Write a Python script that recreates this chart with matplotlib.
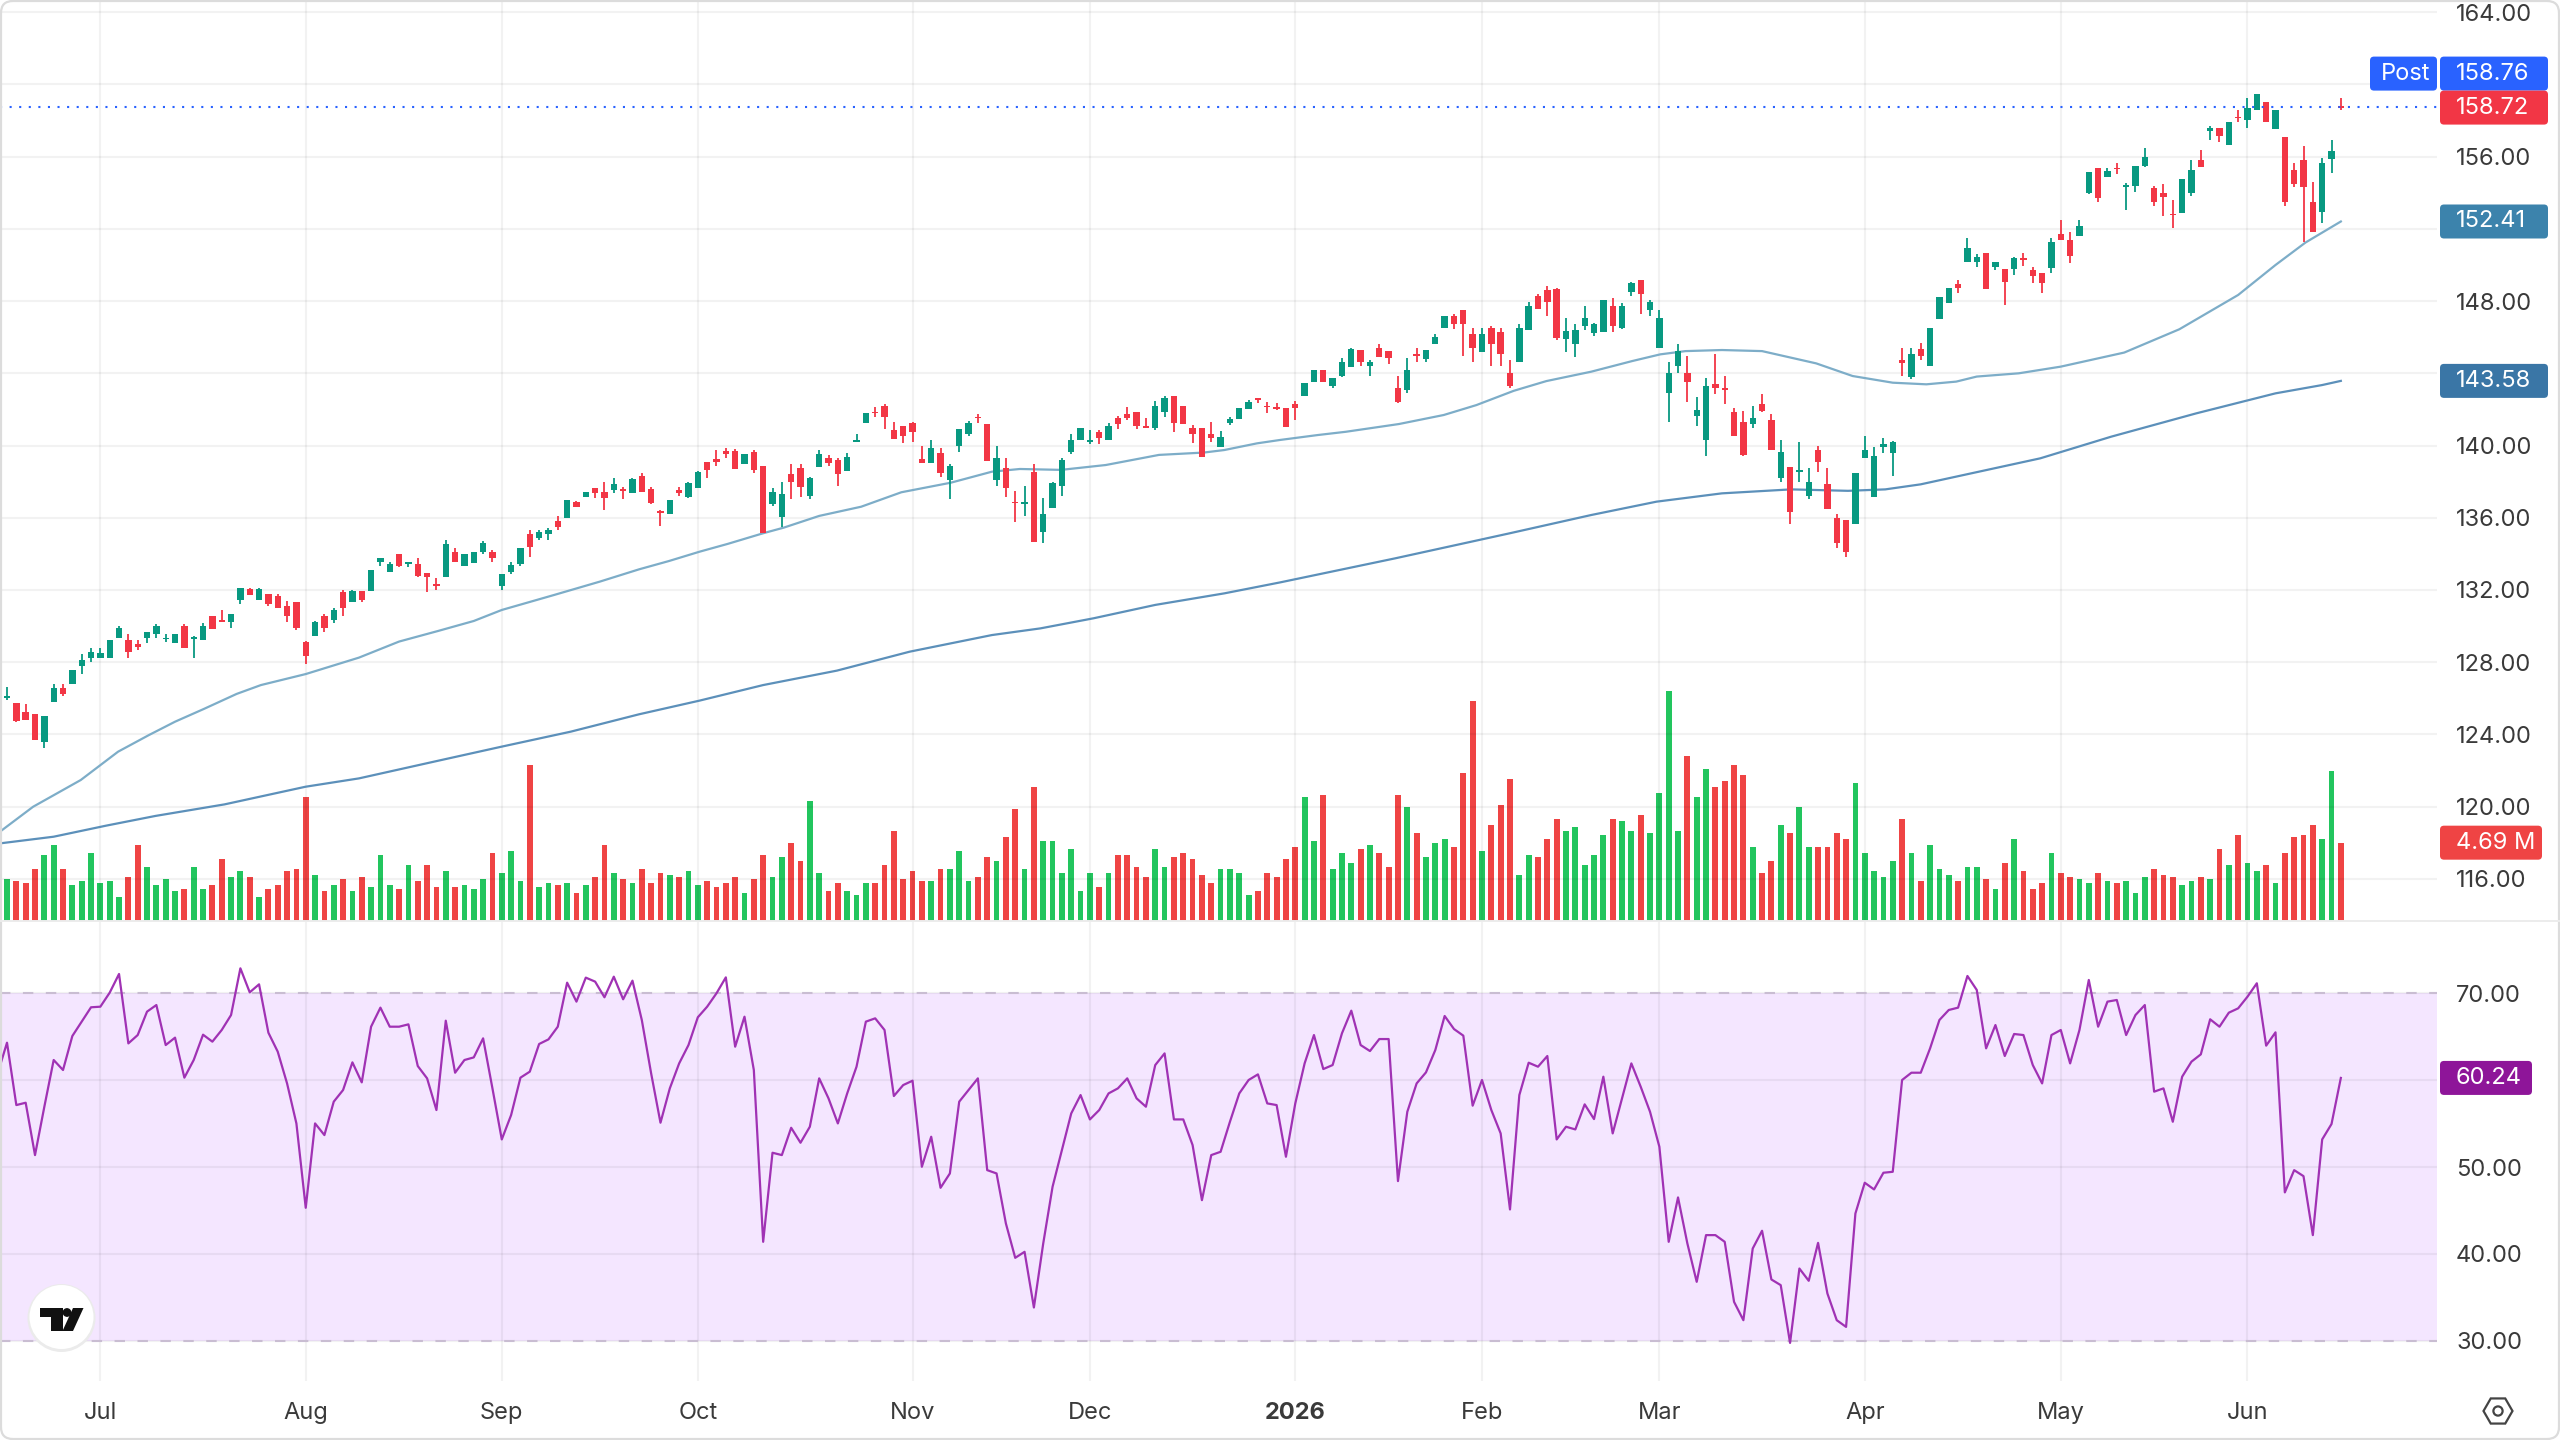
import numpy as np
import matplotlib
matplotlib.use("Agg")
import matplotlib.pyplot as plt
from matplotlib.patches import Circle, FancyBboxPatch, Polygon, RegularPolygon

plt.rcParams["font.family"] = ["Inter", "DejaVu Sans"]

# daily candles
opens = [
    126.0,125.72,125.24,125.13,123.60,125.81,126.55,126.79,127.79,128.21,
    128.25,128.25,129.32,129.23,129.0,129.32,129.56,129.26,129.04,130.02,
    129.28,129.23,130.56,130.30,130.21,131.44,132.03,131.44,131.78,131.68,
    131.11,131.31,129.10,129.47,130.56,130.34,131.90,131.35,131.96,131.96,
    133.57,133.01,133.99,133.44,133.42,132.96,132.33,132.70,134.08,133.34,
    133.47,134.08,134.08,132.22,133.01,133.42,135.10,134.86,135.08,135.84,
    136.0,136.85,137.13,137.63,137.41,137.54,137.57,137.35,138.33,137.57,
    136.37,136.21,137.54,137.17,137.67,139.07,139.24,139.70,139.70,138.98,
    139.66,138.87,136.76,136.02,138.41,138.74,137.2,138.79,139.33,139.2,
    138.57,140.22,141.23,141.88,142.19,140.86,141.08,141.23,139.26,139.02,
    139.61,138.09,139.98,140.64,141.60,141.19,138.09,138.74,136.89,136.76,
    138.55,135.23,136.52,137.78,139.63,140.31,140.18,140.77,140.31,141.51,
    141.75,141.84,141.08,140.95,141.88,142.75,142.19,140.95,140.99,140.64,
    139.90,141.27,141.45,142.01,142.62,142.19,142.15,142.06,142.28,142.76,
    143.53,144.18,143.29,143.85,144.33,145.29,144.42,145.38,145.25,143.16,
    143.07,145.05,144.77,145.62,146.53,147.17,147.50,146.17,145.20,146.53,
    146.27,144.03,144.64,146.40,148.28,148.61,148.67,145.88,145.62,146.62,
    146.25,146.30,147.73,146.49,148.52,149.17,147.50,145.42,142.89,144.42,
    144.03,141.65,140.30,143.40,143.16,141.87,141.32,141.19,142.30,141.41,
    138.21,138.79,138.55,137.20,139.75,137.85,136.0,135.87,135.65,139.32,
    137.16,139.90,139.56,144.73,143.81,145.35,144.43,146.99,147.88,148.95,
    150.19,150.19,150.65,149.87,149.78,149.76,150.37,149.73,149.58,149.82,
    151.72,151.39,151.63,154.01,155.36,154.90,155.40,154.34,154.38,155.50,
    154.29,154.01,152.83,152.87,153.97,155.82,157.45,157.57,156.65,158.22,
    158.04,158.59,159.01,157.52,157.11,155.27,155.82,153.47,152.96,155.86,158.78,
]
highs = [
    126.64,125.76,125.68,125.13,125.02,126.79,126.79,127.57,128.45,128.77,
    128.77,129.23,130.0,129.56,129.23,129.65,130.11,129.56,129.56,130.11,
    129.45,130.15,130.56,130.89,130.67,132.09,132.10,132.10,131.78,131.78,
    131.41,131.31,129.17,130.30,130.67,130.98,132.0,132.0,131.96,133.10,
    133.75,133.52,133.99,133.53,133.75,132.96,132.64,134.77,134.30,133.97,
    134.08,134.73,134.21,132.88,133.57,134.30,135.32,135.32,135.41,136.10,
    136.98,136.95,137.41,137.63,137.96,138.18,137.68,138.22,138.46,137.68,
    136.43,136.98,137.69,138.0,138.60,139.10,139.75,139.85,139.78,139.51,
    139.75,138.87,137.63,137.96,138.96,138.96,138.28,139.75,139.48,139.29,
    139.61,140.64,141.79,142.15,142.30,141.29,141.08,141.29,139.98,140.31,
    139.85,138.96,140.90,141.38,141.75,141.19,139.98,139.29,137.50,137.76,
    138.96,137.08,137.97,139.29,140.64,140.95,140.86,140.86,141.27,141.64,
    142.15,141.84,141.51,142.49,142.75,142.75,142.19,141.14,140.99,141.29,
    140.82,141.60,142.06,142.52,142.62,142.39,142.38,142.06,142.48,143.44,
    144.18,144.18,143.72,144.83,145.42,145.29,144.73,145.62,145.25,143.85,
    144.83,145.38,145.29,146.17,147.17,147.26,147.50,146.49,146.49,146.62,
    146.49,144.73,146.73,147.97,148.39,148.83,148.71,147.04,146.71,147.73,
    146.80,148.06,148.15,147.87,149.07,149.17,148.06,147.50,144.60,145.62,
    144.96,142.70,143.72,145.07,143.85,142.06,141.93,142.18,142.85,141.72,
    140.30,138.79,140.17,138.73,139.97,138.73,136.20,135.87,138.45,140.52,
    139.93,140.39,140.26,145.38,145.38,145.70,146.50,148.21,148.71,149.17,
    151.48,150.59,150.65,150.15,149.78,150.46,150.65,149.91,149.58,151.48,
    152.50,151.81,152.50,155.17,155.36,155.36,155.67,154.56,155.50,156.47,
    154.38,154.49,153.60,154.75,155.82,156.37,157.70,157.57,157.90,158.59,
    159.24,159.48,159.01,158.59,157.11,155.67,156.60,154.58,155.91,156.93,159.27,
]
lows = [
    125.90,124.70,124.78,123.69,123.26,125.81,126.13,126.79,127.34,128.03,
    128.25,128.25,129.32,128.25,128.67,129.04,129.32,129.10,129.04,128.80,
    128.21,129.23,129.82,130.24,129.87,131.22,131.72,131.44,131.13,131.02,
    130.24,129.78,127.90,129.47,129.69,130.15,130.58,131.35,131.35,131.96,
    133.33,133.01,133.25,133.25,132.70,131.90,132.0,132.70,133.57,133.34,
    133.47,134.0,133.57,132.0,132.88,133.33,133.81,134.77,134.77,135.32,
    136.0,136.58,137.13,137.11,136.43,137.35,137.02,137.35,137.44,136.76,
    135.54,136.21,137.22,137.11,137.67,138.22,138.89,139.33,138.68,138.98,
    138.46,135.14,136.67,135.51,137.02,137.13,137.02,138.79,138.89,137.78,
    138.57,140.22,141.23,141.56,140.90,140.34,140.12,140.22,139.02,139.02,
    138.24,137.02,139.66,140.53,141.23,139.16,137.76,137.13,135.78,136.12,
    134.67,134.58,136.52,137.22,139.53,140.31,140.09,140.09,140.31,140.90,
    141.42,140.90,140.97,140.86,141.56,140.77,141.19,140.12,139.35,140.22,
    139.90,141.14,141.45,142.01,142.34,141.79,141.97,141.0,141.41,142.76,
    143.53,143.53,143.20,143.77,144.33,144.42,143.87,144.88,144.51,142.33,
    142.89,144.64,144.64,145.62,146.53,146.43,144.97,144.64,145.20,144.42,
    144.42,143.20,144.64,146.40,147.54,147.17,145.84,145.20,144.88,146.40,
    146.08,146.30,146.30,146.43,148.28,147.28,147.17,145.42,141.32,144.0,
    142.43,141.10,139.43,142.85,142.30,140.54,139.42,140.99,141.87,139.75,
    137.99,135.68,137.99,137.02,138.55,136.46,134.34,133.80,135.65,139.32,
    137.16,139.56,138.33,143.85,143.66,144.74,144.43,146.99,147.88,148.43,
    150.19,149.87,148.67,149.73,147.79,149.45,149.97,148.99,148.43,149.54,
    151.39,150.10,151.63,153.94,153.51,154.86,155.04,153.05,154.07,155.41,
    153.29,152.72,152.03,152.87,153.84,155.45,156.93,156.84,156.65,157.91,
    157.61,158.59,157.94,157.52,153.29,154.31,151.30,151.85,152.31,155.08,158.59,
]
closes = [
    126.13,124.76,124.80,123.69,125.02,126.55,126.22,127.57,128.12,128.58,
    128.53,129.23,129.91,128.58,128.86,129.65,130.0,129.36,129.56,128.80,
    129.38,130.02,129.82,130.24,130.67,132.09,131.72,132.03,131.22,131.02,
    130.56,129.87,128.36,130.24,129.87,130.89,131.02,131.94,131.44,133.10,
    133.75,133.43,133.33,133.53,132.77,132.70,132.24,134.54,133.57,133.97,
    134.08,134.58,133.75,132.88,133.38,134.30,134.36,135.23,135.32,135.50,
    136.98,136.58,137.41,137.35,137.11,137.85,137.50,138.13,137.44,136.83,
    136.28,136.98,137.35,137.91,138.55,138.65,139.11,139.51,138.68,139.51,
    138.65,135.14,137.41,137.32,138.0,137.69,138.22,139.53,139.05,138.42,
    139.38,140.27,141.79,141.79,141.56,140.34,140.53,140.77,139.02,139.85,
    138.46,138.89,140.90,141.23,141.51,139.16,139.29,137.67,136.80,136.85,
    134.67,136.21,137.91,139.20,140.31,140.95,140.31,140.40,141.08,141.19,
    141.51,141.10,140.97,142.19,142.62,141.27,141.19,140.64,139.35,140.40,
    140.49,141.45,142.06,142.43,142.52,142.12,142.01,141.0,142.06,143.44,
    144.18,143.53,143.72,144.60,145.32,144.64,144.64,144.88,144.86,142.39,
    144.18,144.97,145.29,145.99,147.17,146.73,146.73,145.38,146.17,145.62,
    145.07,143.29,146.53,147.73,147.54,147.97,145.93,146.36,146.40,147.04,
    146.73,148.06,146.64,147.73,148.98,148.39,147.97,147.08,144.03,145.25,
    143.53,141.96,143.29,143.20,143.09,140.54,139.47,141.50,141.93,139.75,
    139.62,136.33,138.64,137.96,139.10,136.46,134.58,134.12,138.45,139.75,
    139.42,140.06,140.21,144.55,145.05,144.98,146.50,148.21,148.71,148.71,
    150.93,150.46,148.67,150.15,149.08,150.37,150.28,149.41,148.99,151.30,
    151.39,150.52,152.18,155.17,153.70,155.23,155.30,154.43,155.50,156.0,
    153.47,153.75,152.75,154.75,155.27,155.45,157.57,157.15,157.90,158.13,
    158.72,159.48,157.94,158.59,153.51,154.49,154.31,151.85,155.67,156.34,158.72,
]

# volume in millions of shares
volume = [
    2.50,2.40,2.28,3.11,3.95,4.55,3.11,2.16,2.40,4.07,
    2.28,2.40,1.44,2.63,4.55,3.23,2.16,2.51,1.80,1.92,
    3.23,1.92,2.16,3.71,2.63,2.99,2.63,1.44,1.92,2.16,
    2.99,3.11,7.43,2.75,1.80,2.16,2.51,1.80,2.63,2.04,
    3.95,2.16,1.92,3.35,2.40,3.35,2.04,2.99,2.04,2.16,
    1.92,2.51,4.07,2.87,4.19,2.40,9.34,2.04,2.28,2.16,
    2.28,1.68,2.16,2.63,4.55,2.87,2.51,2.28,3.11,2.28,
    2.87,2.75,2.63,2.99,2.16,2.40,2.04,2.28,2.63,1.68,
    2.51,3.95,2.63,3.83,4.67,3.59,7.19,2.87,1.80,2.28,
    1.80,1.56,2.28,2.28,3.35,5.39,2.51,2.99,2.40,2.40,
    3.11,3.11,4.19,2.40,2.63,3.83,3.59,5.03,6.71,3.11,
    8.02,4.79,4.79,2.87,4.31,1.80,2.87,2.04,2.87,3.95,
    3.95,3.23,2.63,4.31,3.23,3.83,4.07,3.71,2.75,2.28,
    3.11,3.11,2.87,1.56,1.80,2.87,2.63,3.71,4.43,7.43,
    4.79,7.54,3.11,4.07,3.47,4.31,4.55,4.07,3.23,7.54,
    6.83,5.27,3.83,4.67,4.91,4.43,8.86,13.17,4.19,5.75,
    6.95,8.50,2.75,3.95,3.83,4.91,6.11,5.39,5.63,3.35,
    3.95,5.15,6.11,5.99,5.39,6.35,5.27,7.66,13.77,5.39,
    9.86,7.43,9.10,8.02,8.38,9.34,8.74,4.43,2.87,3.59,
    5.75,5.27,6.83,4.43,4.43,4.43,5.27,4.91,8.26,4.07,
    2.99,2.63,3.59,6.11,4.07,2.40,4.55,3.11,2.75,2.40,
    3.23,3.23,2.51,1.92,3.47,4.91,2.99,1.92,2.28,4.07,
    2.87,2.63,2.51,2.28,2.87,2.40,2.28,2.40,1.68,2.63,
    3.11,2.75,2.63,2.16,2.40,2.63,2.51,4.31,3.35,5.15,
    3.47,2.99,3.35,2.28,4.07,5.03,5.15,5.75,4.91,8.98,4.69,
]

# RSI, starting one session before the first candle
rsi = [
    60.76,
    64.29,57.12,57.39,51.37,56.93,62.30,61.15,65.06,66.71,68.36,
    68.43,70.04,72.19,64.21,65.17,67.86,68.62,64.02,64.87,60.27,
    62.30,65.21,64.41,65.75,67.47,72.84,70.08,71.00,65.44,63.26,
    59.61,55.01,45.31,55.01,53.67,57.51,58.85,62.03,59.73,66.13,
    68.32,66.13,66.13,66.40,61.61,60.19,56.55,66.82,60.84,62.30,
    62.60,64.79,59.04,53.17,55.97,60.27,60.96,64.14,64.67,66.13,
    71.19,69.01,71.77,71.31,69.51,71.88,69.28,71.42,66.90,60.76,
    55.09,59.04,61.91,64.02,67.21,68.43,69.97,71.80,63.83,67.28,
    61.15,41.40,51.64,51.37,54.51,52.79,54.63,60.19,57.89,55.01,
    58.46,61.53,66.71,67.09,65.75,58.16,59.42,59.92,50.03,53.48,
    47.61,49.26,57.51,58.85,60.19,49.64,49.26,43.51,39.56,40.25,
    33.85,41.21,47.73,51.94,56.16,58.27,55.47,56.55,58.46,59.04,
    60.19,57.89,56.93,61.72,63.06,55.47,55.47,52.52,46.19,51.37,
    51.75,55.20,58.46,60.00,60.65,57.31,57.12,51.18,57.31,61.91,
    65.17,61.26,61.72,65.37,67.97,64.02,63.33,64.71,64.71,48.38,
    56.35,59.61,60.88,63.45,67.36,65.86,65.10,57.05,60.00,56.55,
    53.86,45.12,58.27,61.99,61.53,62.76,53.17,54.63,54.32,57.20,
    55.51,60.38,53.86,57.89,61.91,59.23,56.35,52.33,41.40,46.50,
    41.21,36.80,42.17,42.17,41.40,34.50,32.39,40.63,42.67,37.07,
    36.42,29.78,38.33,36.92,41.28,35.46,32.39,31.62,44.66,48.19,
    47.42,49.34,49.45,60.00,60.84,60.84,63.64,66.90,68.05,68.32,
    71.96,70.35,63.64,66.32,62.76,65.29,65.17,61.72,59.61,65.17,
    65.75,61.91,65.75,71.50,66.13,69.01,69.20,65.17,67.47,68.62,
    58.66,59.04,55.20,60.38,62.11,62.95,66.98,66.13,67.74,68.24,
    69.58,71.12,63.95,65.48,47.08,49.64,48.95,42.17,53.17,54.94,60.24,
]

# moving averages, as session number / level pairs
ma_fast_x = [
    -0.75,2.8,7.9,11.9,15.2,18,21.1,24.6,27.2,32,37.7,42,46.2,50,53,58.6,63.5,67.7,
    70.9,74.2,77.2,81,83.2,87,91.5,95.8,101.1,105.5,108.5,112.9,117.7,123.4,128.2,
    130.4,133.9,136.4,140.4,143.4,149.1,153.9,157.4,161.4,164.9,169.7,174.1,177.1,
    179.8,183.7,188,193.8,197.7,202,205.6,208.8,211,215.5,220,226.8,232.7,239,243,
    246.2,250,
]
ma_fast_y = [
    118.61,119.99,121.47,123.04,123.96,124.70,125.41,126.24,126.73,127.34,128.25,
    129.14,129.73,130.28,130.89,131.72,132.46,133.14,133.60,134.12,134.55,135.14,
    135.45,136.10,136.61,137.41,137.94,138.55,138.70,138.65,138.92,139.48,139.61,
    139.75,140.12,140.31,140.58,140.76,141.19,141.69,142.24,143.03,143.57,144.09,
    144.68,145.05,145.23,145.29,145.23,144.55,143.85,143.48,143.39,143.54,143.82,
    144.00,144.37,145.15,146.44,148.34,150.00,151.24,152.41,
]
ma_slow_x = [
    -0.75,5,10.6,15.9,23.3,32,37.7,46.2,53,60.4,67.7,74.2,81,88.9,96.7,105.5,110.7,
    116.4,123,130.4,136.4,148.7,160.9,169.7,176.7,183.7,191.1,197.2,201.2,205,217.8,
    225.4,234.5,243,248,250,
]
ma_slow_y = [
    117.96,118.33,118.94,119.48,120.12,121.10,121.56,122.54,123.32,124.15,125.11,
    125.87,126.73,127.53,128.58,129.50,129.87,130.43,131.17,131.81,132.42,133.75,
    135.13,136.15,136.89,137.35,137.57,137.49,137.57,137.85,139.29,140.49,141.78,
    142.89,143.35,143.58,
]

month_sessions = [10, 32, 53, 74, 97, 116, 138, 158, 177, 199, 220, 240]
month_labels = ["Jul", "Aug", "Sep", "Oct", "Nov", "Dec", "2026", "Feb", "Mar", "Apr", "May", "Jun"]
price_ticks = [116, 120, 124, 128, 132, 136, 140, 144, 148, 152, 156, 160, 164]
rsi_ticks = [30, 40, 50, 60, 70]
# these levels have a price tag sitting right on them
tagged_ticks = [60, 152, 160]

post_price = 158.76
last_price = 158.72
fast_last = 152.41
slow_last = 143.58
last_volume = 4.69
last_rsi = 60.24

UP = "#089981"
DOWN = "#F23645"
VOL_UP = "#22C55E"
VOL_DOWN = "#EF4444"
TEXT = "#3a3a3a"

W, H = 2560, 1440
PANE_R = 2437
SPLIT = 921
RSI_B = 1381
FONT_SIZE = 17


def pane(top, bottom):
    return [0, 1 - bottom / H, PANE_R / W, (bottom - top) / H]


fig = plt.figure(figsize=(W / 100, H / 100), dpi=100, facecolor="white")
ax_vol = fig.add_axes(pane(0, SPLIT), zorder=1)
ax = fig.add_axes(pane(0, SPLIT), zorder=2)
ax_rsi = fig.add_axes(pane(SPLIT, RSI_B), zorder=2)
top = fig.add_axes([0, 0, 1, 1], zorder=5)
top.set_xlim(0, W)
top.set_ylim(H, 0)
top.axis("off")
top.patch.set_alpha(0)

xlim = (-0.75, 260.3)
sessions = np.arange(len(closes))
o, h, l, c = map(np.array, (opens, highs, lows, closes))
rising = c >= o

# price pane
ax.patch.set_alpha(0)
ax.set_xlim(xlim)
ax.set_ylim(113.66, 164.68)
ax.set_axisbelow(True)
ax.plot(ma_fast_x, ma_fast_y, color="#7DADC8", lw=1.6, zorder=2)
ax.plot(ma_slow_x, ma_slow_y, color="#5C90BA", lw=1.6, zorder=2)
candle_colors = np.where(rising, UP, DOWN)
ax.vlines(sessions, l, h, colors=candle_colors, lw=1.3, zorder=3)
ax.bar(sessions, np.maximum(np.abs(c - o), 0.08), bottom=np.minimum(o, c), width=0.68,
       color=candle_colors, zorder=3)
ax.axhline(post_price, color="#2962FF", lw=1.5, ls=(0, (1, 3.6)), zorder=4)

# volume sits under the candles on its own scale
ax_vol.set_xlim(xlim)
ax_vol.set_ylim(0, 55.15)
ax_vol.bar(sessions, volume, width=0.62, color=np.where(rising, VOL_UP, VOL_DOWN))
ax_vol.axis("off")

# RSI pane
ax_rsi.patch.set_alpha(0)
ax_rsi.set_xlim(xlim)
ax_rsi.set_ylim(25.4, 78.28)
ax_rsi.set_axisbelow(True)
ax_rsi.axhspan(30, 70, color="#F4E6FF", lw=0, zorder=0)
for level in (30, 70):
    ax_rsi.axhline(level, color="#C9BDD2", lw=1.5, ls=(0, (5, 6)), zorder=1)
ax_rsi.plot(np.arange(-1, len(closes)), rsi, color="#A032B4", lw=1.6, zorder=3)

for a, ticks in ((ax, price_ticks), (ax_rsi, rsi_ticks)):
    a.set_xticks(month_sessions)
    a.set_yticks(ticks)
    a.set_yticklabels(["" if t in tagged_ticks else f"{t:.2f}" for t in ticks],
                      fontsize=FONT_SIZE, color=TEXT)
    a.yaxis.tick_right()
    a.tick_params(axis="both", length=0)
    a.tick_params(axis="y", pad=13.7)
    a.grid(True, color="black", alpha=0.05, lw=1.5)
    for spine in a.spines.values():
        spine.set_visible(False)
ax.set_xticklabels([])
ax_rsi.set_xticklabels(month_labels, fontsize=FONT_SIZE, color=TEXT)
ax_rsi.get_xticklabels()[month_labels.index("2026")].set_fontweight("bold")
ax_rsi.tick_params(axis="x", pad=15)


def tag(y, text, color, x0=2440, x1=2548, text_x=2456, height=34):
    top.add_patch(FancyBboxPatch((x0 + 3, y - height / 2 + 3), x1 - x0 - 6, height - 6,
                                 boxstyle="round,pad=3,rounding_size=4", fc=color, ec="none"))
    top.text(text_x, y, text, color="white", fontsize=FONT_SIZE, va="center", ha="left")


def level_y(axes, value):
    return H - axes.transData.transform((0, value))[1]


last_y = level_y(ax, last_price)
tag(last_y - 34, f"{post_price:.2f}", "#2962FF")
tag(last_y - 34, "Post", "#2962FF", x0=2370, x1=2437, text_x=2381)
tag(last_y, f"{last_price:.2f}", DOWN)
tag(level_y(ax, fast_last), f"{fast_last:.2f}", "#3C83AC")
tag(level_y(ax, slow_last), f"{slow_last:.2f}", "#3A76A6")
tag(level_y(ax_vol, last_volume), f"{last_volume:.2f} M", VOL_DOWN, x1=2542)
tag(level_y(ax_rsi, last_rsi), f"{last_rsi:.2f}", "#8E1599", x1=2532)

# pane separator and outer frame
top.plot([0, W], [SPLIT, SPLIT], color="#ececec", lw=1.4)
top.add_patch(FancyBboxPatch((1, 1), W - 2, H - 2, boxstyle="round,pad=0,rounding_size=12",
                             fc="none", ec="#dcdcdc", lw=1.6))

# logo badge
top.add_patch(Circle((61.5, 1318), 34, fc="#ebebeb", ec="none"))
top.add_patch(Circle((61.5, 1317), 32, fc="white", ec="none"))
top.add_patch(Polygon([(40, 1308), (63, 1308), (63, 1331), (51, 1331), (51, 1317), (40, 1317)],
                      fc="#111111", ec="none"))
top.add_patch(Circle((67, 1312.5), 4.4, fc="#111111", ec="none"))
top.add_patch(Polygon([(73, 1308), (83.5, 1308), (73, 1331), (62.5, 1331)], fc="#111111", ec="none"))

# settings glyph
top.add_patch(RegularPolygon((2498, 1411), 6, radius=14.5, orientation=np.pi / 6,
                             fc="none", ec="#444444", lw=1.6))
top.add_patch(Circle((2498, 1411), 4.6, fc="none", ec="#444444", lw=1.6))

fig.savefig("out.png", dpi=100)
